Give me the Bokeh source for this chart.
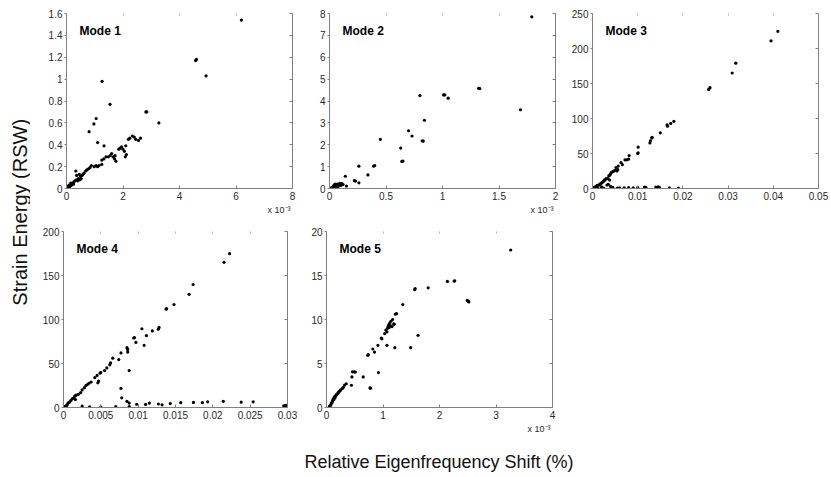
import math
from bokeh.plotting import figure
from bokeh.layouts import row, column
from bokeh.models import Range1d, FixedTicker, LinearAxis, Label, Title, ColumnDataSource
from bokeh.embed import file_html
from bokeh.resources import INLINE

FONT = "Liberation Sans"

# ---------------- data (x of modes 1, 2, 5 in units of 1e-3) ----------------
mode1_x = [6.19, 4.57, 4.60, 4.94, 1.26, 1.54, 1.05, 0.97, 0.80, 2.81, 2.84, 3.27, 1.10, 1.33,
           2.19, 2.24, 2.33, 2.40, 2.45, 2.55, 2.62, 1.90, 1.95, 2.00, 2.05, 1.85, 2.10, 2.12,
           2.08, 1.75, 1.72, 1.65, 1.60, 1.55, 1.48, 1.40, 1.32, 1.25, 1.15, 1.10, 1.05, 0.98,
           0.88, 0.83, 0.78, 0.72, 0.68, 0.62, 0.55, 0.50, 0.47, 0.42, 0.40, 0.35, 0.33, 0.30,
           0.26, 0.22, 0.20, 0.17, 0.14, 0.12, 0.10, 0.08, 0.06, 0.05, 0.03, 0.02, 0.01, 0.15,
           0.25, 0.36, 0.58, 1.25, 1.70, 0.45, 0.52, 0.05, 0.09]
mode1_y = [1.54, 1.17, 1.18, 1.03, 0.98, 0.77, 0.64, 0.59, 0.52, 0.70, 0.70, 0.60, 0.42, 0.39,
           0.45, 0.46, 0.48, 0.47, 0.45, 0.44, 0.46, 0.37, 0.38, 0.36, 0.34, 0.36, 0.39, 0.31,
           0.29, 0.25, 0.30, 0.29, 0.32, 0.30, 0.29, 0.29, 0.27, 0.26, 0.21, 0.20, 0.21, 0.20,
           0.21, 0.19, 0.18, 0.17, 0.16, 0.14, 0.12, 0.11, 0.08, 0.09, 0.07, 0.08, 0.16, 0.07,
           0.06, 0.05, 0.04, 0.03, 0.03, 0.02, 0.02, 0.015, 0.01, 0.012, 0.005, 0.004, 0.002, 0.05,
           0.04, 0.12, 0.13, 0.22, 0.27, 0.13, 0.09, 0.02, 0.03]

mode2_x = [1.79, 1.32, 1.33, 1.69, 0.80, 1.01, 1.02, 1.05, 0.84, 0.70, 0.73, 0.82, 0.83, 0.63,
           0.64, 0.65, 0.45, 0.39, 0.40, 0.26, 0.34, 0.14, 0.22, 0.23, 0.26, 0.15,
           0.11, 0.10, 0.09, 0.08, 0.07, 0.06, 0.05, 0.05, 0.04, 0.03, 0.03, 0.02, 0.015, 0.01,
           0.06, 0.08, 0.10, 0.12, 0.04, 0.07]
mode2_y = [7.85, 4.58, 4.57, 3.60, 4.25, 4.28, 4.28, 4.13, 3.12, 2.64, 2.40, 2.18, 2.17, 1.85,
           1.24, 1.25, 2.25, 1.02, 1.05, 1.02, 0.62, 0.56, 0.36, 0.34, 0.26, 0.11,
           0.22, 0.20, 0.23, 0.18, 0.20, 0.15, 0.12, 0.20, 0.10, 0.08, 0.05, 0.04, 0.02, 0.01,
           0.06, 0.12, 0.14, 0.18, 0.16, 0.09]

mode3_x = [0.0410, 0.0395, 0.0317, 0.0309, 0.0260, 0.0257, 0.0180, 0.0173, 0.0166, 0.0165,
           0.0150, 0.0132, 0.0131, 0.0128, 0.0127, 0.0101, 0.0101, 0.0100, 0.0081, 0.0080,
           0.0076, 0.0072, 0.0066, 0.0063, 0.0057, 0.0056, 0.0054, 0.0052, 0.0050, 0.0047,
           0.0045, 0.0042, 0.0040, 0.0038, 0.0036, 0.0034, 0.0030, 0.0028, 0.0026, 0.0024,
           0.0022, 0.0020, 0.0018, 0.0016, 0.0014, 0.0012, 0.0010, 0.0008, 0.0006, 0.0004,
           0.0002, 0.0038, 0.0035, 0.0032,
           0.0012, 0.0025, 0.0045, 0.0060, 0.0070, 0.0080, 0.0090, 0.0100, 0.0115, 0.0118,
           0.0140, 0.0145, 0.0148, 0.0170, 0.0190, 0.0055, 0.0040, 0.0020]
mode3_y = [224.5, 211, 179, 165, 144, 141.5, 96, 93, 89, 91,
           79.5, 73, 72, 68, 65, 59, 51, 50, 47, 42,
           41, 41, 34, 37, 32, 27, 25, 30, 26, 25,
           24, 23, 21, 19, 18, 14, 14, 12, 12, 10,
           9, 8, 7, 6, 5, 4.5, 4, 3, 2, 1.5,
           1, 12, 6, 5,
           0.8, 0.7, 1.5, 0.9, 1.0, 1.2, 1.0, 1.3, 2.0, 1.8,
           2.0, 2.2, 1.8, 0.8, 0.6, 0.5, 3, 2.5]

mode4_x = [0.02225, 0.0215, 0.01736, 0.01682, 0.0148, 0.01375, 0.0138, 0.0128, 0.0127, 0.0119,
           0.0105, 0.0111, 0.0108, 0.0094, 0.0095, 0.0097, 0.0085, 0.0086, 0.0086, 0.0077,
           0.0088, 0.0074, 0.0066, 0.0063, 0.0062, 0.0058, 0.0055, 0.0050, 0.0049, 0.0045,
           0.0042, 0.0037, 0.0034, 0.0032, 0.0030, 0.0028, 0.0025, 0.0023, 0.0020, 0.0017,
           0.0015, 0.0014, 0.0012, 0.0010, 0.0008, 0.0006, 0.0005, 0.0004, 0.0003, 0.0002,
           0.0001, 0.0047, 0.0046, 0.0016,
           0.0077, 0.0078, 0.0085,
           0.0088, 0.0098, 0.0110, 0.0127, 0.0143, 0.0157, 0.0174, 0.0186, 0.0193, 0.0214,
           0.0238, 0.0254, 0.0295, 0.0297, 0.0299, 0.0115, 0.0132, 0.0088, 0.0035, 0.0050,
           0.0070, 0.0025]
mode4_y = [174.8, 165, 139.8, 128.6, 117, 111.7, 112.5, 91, 89, 87,
           89.5, 81.6, 70.7, 79, 79.5, 74, 68, 66, 63, 62,
           42, 54.5, 56, 50.7, 48.5, 45, 42, 40, 39, 36.5,
           34, 29, 27.5, 26, 25, 22.5, 20, 17, 15, 14,
           13, 11, 10, 8, 6, 5, 3, 2, 1.5, 1,
           0.5, 30, 28, 9,
           21.8, 11, 7,
           5, 3.7, 3.5, 4, 4.5, 5.5, 5.8, 5.5, 6.5, 7,
           6, 6.5, 2, 2.2, 2.5, 5, 3, 1, 0.8, 0.5,
           1, 1.5]

mode5_x = [3.26, 2.26, 2.14, 2.27, 2.49, 2.51, 2.52, 1.57, 1.56, 1.80, 1.35, 1.24, 1.22, 1.17,
           1.14, 1.12, 1.10, 1.16, 1.08, 1.05, 1.07, 1.03, 1.19, 1.20, 0.97, 0.98, 0.91, 0.85,
           0.82, 0.73, 0.74, 1.07, 1.21, 1.49, 1.62, 0.92, 0.77, 0.78, 0.65, 0.46, 0.49, 0.51,
           0.45, 0.44, 0.35, 0.32, 0.28, 0.25, 0.22, 0.20, 0.18, 0.16, 0.15, 0.13, 0.12, 0.11,
           0.10, 0.09, 0.08, 0.07, 0.06, 0.05, 0.17, 0.21, 0.14, 0.24, 0.30, 1.11, 1.13, 1.09]
mode5_y = [17.9, 14.37, 14.33, 14.4, 12.17, 12.06, 12.0, 13.5, 13.4, 13.6, 11.7, 10.66, 10.6, 10.0,
           9.8, 9.6, 9.4, 9.2, 9.0, 8.8, 8.6, 8.4, 9.5, 9.45, 7.9, 7.8, 7.07, 6.3,
           6.65, 5.93, 6.0, 7.07, 6.8, 6.8, 8.2, 3.97, 2.23, 2.2, 3.48, 4.05, 4.05, 4.02,
           3.48, 2.53, 2.7, 2.55, 2.15, 2.0, 1.8, 1.6, 1.5, 1.3, 1.1, 0.9, 1.0, 0.8,
           0.6, 0.5, 0.35, 0.25, 0.15, 0.1, 1.4, 1.7, 1.2, 1.9, 2.3, 9.1, 9.3, 9.2]

# ---------------- ticks ----------------
m1_xticks = [0, 2, 4, 6, 8]
m1_xlabels = ["0", "2", "4", "6", "8"]
m1_yticks = [0, 0.2, 0.4, 0.6, 0.8, 1, 1.2, 1.4, 1.6]
m1_ylabels = ["0", "0.2", "0.4", "0.6", "0.8", "1", "1.2", "1.4", "1.6"]

m2_xticks = [0, 0.5, 1, 1.5, 2]
m2_xlabels = ["0", "0.5", "1", "1.5", "2"]
m2_yticks = [0, 1, 2, 3, 4, 5, 6, 7, 8]
m2_ylabels = ["0", "1", "2", "3", "4", "5", "6", "7", "8"]

m3_xticks = [0, 0.01, 0.02, 0.03, 0.04, 0.05]
m3_xlabels = ["0", "0.01", "0.02", "0.03", "0.04", "0.05"]
m3_yticks = [0, 50, 100, 150, 200, 250]
m3_ylabels = ["0", "50", "100", "150", "200", "250"]

m4_xticks = [0, 0.005, 0.01, 0.015, 0.02, 0.025, 0.03]
m4_xlabels = ["0", "0.005", "0.01", "0.015", "0.02", "0.025", "0.03"]
m4_yticks = [0, 50, 100, 150, 200]
m4_ylabels = ["0", "50", "100", "150", "200"]

m5_xticks = [0, 1, 2, 3, 4]
m5_xlabels = ["0", "1", "2", "3", "4"]
m5_yticks = [0, 5, 10, 15, 20]
m5_ylabels = ["0", "5", "10", "15", "20"]

scale_text = "x 10\u207b\u00b3"

AXIS_COLOR = "#808080"
TICK_TEXT = "#2a2a2a"


def panel(title, xs, ys, xr, yr, xt, xl, yt, yl, fw, fh, bl, br, bt, bb, sci):
    p = figure(width=bl + fw + br, height=bt + fh + bb,
               x_range=Range1d(*xr), y_range=Range1d(*yr),
               output_backend="svg", toolbar_location=None,
               min_border_left=bl, min_border_right=br,
               min_border_top=bt, min_border_bottom=bb)
    p.outline_line_color = None
    p.grid.visible = False
    p.background_fill_color = "white"
    p.border_fill_color = "white"

    src = ColumnDataSource(data=dict(x=xs, y=ys))
    p.scatter("x", "y", source=src, size=3.2, color="black", line_width=0)

    xa = p.xaxis[0]
    xa.ticker = FixedTicker(ticks=xt)
    xa.major_label_overrides = dict(zip(xt, xl))
    ya = p.yaxis[0]
    ya.ticker = FixedTicker(ticks=yt)
    ya.major_label_overrides = dict(zip(yt, yl))
    for ax in (xa, ya):
        ax.axis_line_color = AXIS_COLOR
        ax.major_tick_line_color = AXIS_COLOR
        ax.minor_tick_line_color = None
        ax.major_label_text_font = FONT
        ax.major_label_text_font_size = "10px"
        ax.major_label_text_color = TICK_TEXT
    xa.major_tick_in = 3
    xa.major_tick_out = 0
    xa.major_label_standoff = 3
    ya.major_tick_in = 0
    ya.major_tick_out = 2
    ya.major_label_standoff = 2

    right = LinearAxis(ticker=FixedTicker(ticks=yt), major_label_text_font_size="1px",
                       major_label_text_color=None,
                       major_label_standoff=0, axis_line_color=AXIS_COLOR,
                       major_tick_line_color=AXIS_COLOR, minor_tick_line_color=None,
                       major_tick_in=3, major_tick_out=0)
    top = LinearAxis(ticker=FixedTicker(ticks=xt), major_label_text_font_size="1px",
                     major_label_text_color=None,
                     major_label_standoff=0, axis_line_color=None,
                     major_tick_line_color="#b0b0b0", minor_tick_line_color=None,
                     major_tick_in=2, major_tick_out=0)
    p.add_layout(right, "right")
    p.add_layout(top, "above")

    p.add_layout(Label(x=13, y=fh - 17, x_units="screen", y_units="screen", text=title,
                       text_font=FONT, text_font_size="12px", text_font_style="bold",
                       text_color="black", text_baseline="middle", text_align="left"))
    if sci:
        p.add_layout(Title(text=scale_text, align="right", text_font=FONT,
                           text_font_size="9px", text_font_style="normal",
                           text_color=TICK_TEXT, standoff=0, offset=2), "below")
    return p


p1 = panel("Mode 1", mode1_x, mode1_y, (0, 8), (0, 1.6), m1_xticks, m1_xlabels, m1_yticks, m1_ylabels,
           226, 175, 36, 8, 13, 32, True)
p2 = panel("Mode 2", mode2_x, mode2_y, (0, 2), (0, 8), m2_xticks, m2_xlabels, m2_yticks, m2_ylabels,
           226, 175, 29, 8, 13, 32, True)
p3 = panel("Mode 3", mode3_x, mode3_y, (0, 0.05), (0, 250), m3_xticks, m3_xlabels, m3_yticks, m3_ylabels,
           226, 175, 29, 13, 13, 32, False)
p4 = panel("Mode 4", mode4_x, mode4_y, (0, 0.03), (0, 200), m4_xticks, m4_xlabels, m4_yticks, m4_ylabels,
           224, 176, 33, 11, 11, 33, False)
p5 = panel("Mode 5", mode5_x, mode5_y, (0, 4), (0, 20), m5_xticks, m5_xlabels, m5_yticks, m5_ylabels,
           226, 176, 28, 10, 11, 33, True)


def text_fig(w, h):
    f = figure(width=w, height=h, x_range=Range1d(0, 1), y_range=Range1d(0, 1),
               x_axis_type=None, y_axis_type=None, output_backend="svg",
               toolbar_location=None, min_border=0)
    f.outline_line_color = None
    f.grid.visible = False
    return f


ylab = text_fig(30, 477)
ylab.add_layout(Label(x=0.66, y=0.556, text="Strain Energy (RSW)", angle=math.pi / 2,
                      text_font=FONT, text_font_size="20px", text_color="#111111",
                      text_align="center", text_baseline="middle"))

xlab = text_fig(801, 37)
xlab.add_layout(Label(x=0.51, y=0.43, text="Relative Eigenfrequency Shift (%)",
                      text_font=FONT, text_font_size="18px", text_color="#111111",
                      text_align="center", text_baseline="middle"))

layout = column(row(ylab, column(row(p1, p2, p3), row(p4, p5), xlab)))

open("out.html", "w").write(file_html(layout, INLINE))
